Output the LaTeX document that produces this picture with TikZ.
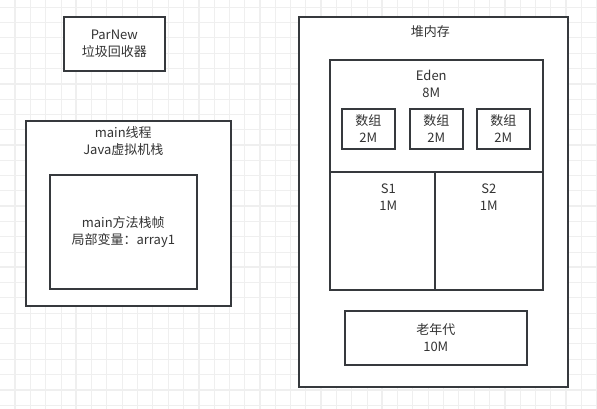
\documentclass[tikz,border=0pt]{standalone}
\usepackage{fontspec}
\setmainfont{Noto Sans CJK SC}
\definecolor{edge}{HTML}{36393D}
\definecolor{ink}{HTML}{333333}
\definecolor{gridc}{HTML}{EFEFEF}

\begin{document}
\begin{tikzpicture}[x=1pt,y=-1pt,
  box/.style={draw=edge,line width=1.6pt,fill=white,anchor=north west,inner sep=0pt,
    align=center,text=ink,font=\fontsize{13}{17}\selectfont},
  lbl/.style={anchor=north,yshift=-#1,align=center,text=ink,font=\fontsize{13}{17}\selectfont}]
\useasboundingbox (0,0) rectangle (597,409);

\foreach \k in {0,...,38}{
    \draw[gridc,line width=0.9pt] (15.1+\k*15.3,0) -- (15.1+\k*15.3,409);
}
\foreach \k in {0,...,26}{
    \draw[gridc,line width=0.9pt] (0,7.2+\k*15.3) -- (597,7.2+\k*15.3);
}
\foreach \k in {0,...,9}{
    \draw[gridc,line width=1.8pt] (15.1+\k*61.2,0) -- (15.1+\k*61.2,409);
}
\foreach \k in {0,...,6}{
    \draw[gridc,line width=1.8pt] (0,22.5+\k*61.2) -- (597,22.5+\k*61.2);
}

\node[box,minimum width=101pt,minimum height=54pt] (parnew) at (63,16) {ParNew\\垃圾回收器};

\node[box,minimum width=205pt,minimum height=185pt,
  label={[lbl=3pt,xshift=-5pt]north:{main线程\\Java虚拟机栈}}] (mainstack) at (25,120) {};
\node[box,minimum width=147pt,minimum height=114pt] (frame) at (49,174) {main方法栈帧\\局部变量：array1};

\node[box,minimum width=269pt,minimum height=370pt,
  label={[lbl=6pt,xshift=-3pt]north:堆内存}] (heap) at (298,16) {};
\node[box,minimum width=213pt,minimum height=112pt,
  label={[lbl=7.5pt,xshift=-5pt]north:{Eden\\8M}}] (eden) at (329,59) {};
\foreach \x/\name in {341/arrA, 409/arrB, 476/arrC}{
    \node[box,minimum width=53pt,minimum height=40pt] (\name) at (\x,108) {数组\\2M};
}
\node[box,minimum width=105pt,minimum height=118pt,
  label={[lbl=9pt,xshift=6pt]north:{S1\\1M}}] (sone) at (329,171) {};
\node[box,minimum width=108pt,minimum height=118pt,
  label={[lbl=9pt]north:{S2\\1M}}] (stwo) at (434,171) {};
\node[box,minimum width=182pt,minimum height=54pt] (oldgen) at (344,310) {老年代\\10M};
\end{tikzpicture}
\end{document}
